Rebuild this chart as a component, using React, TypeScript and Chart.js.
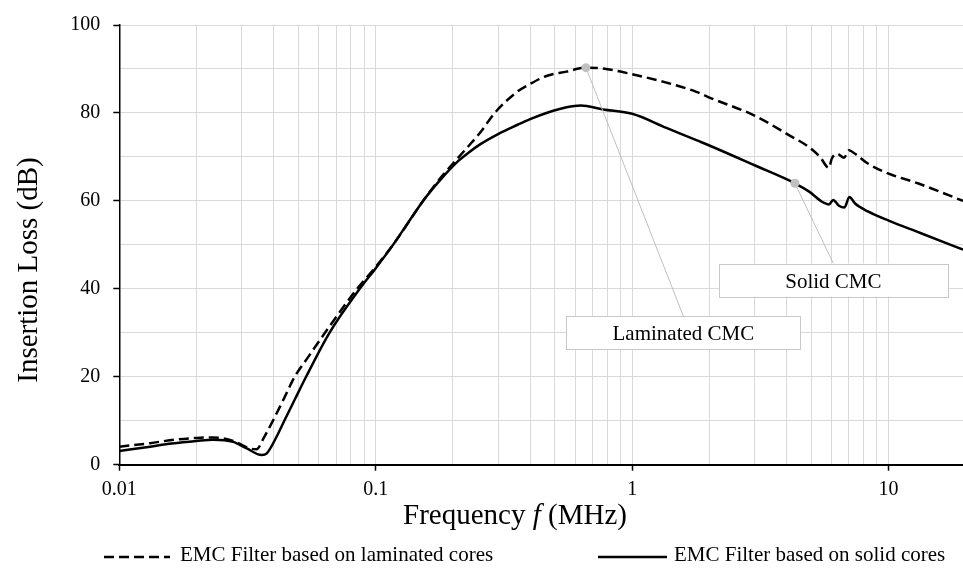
import React, { useEffect, useRef } from 'react';
import { Chart, registerables } from 'chart.js';

Chart.register(...registerables);

// ---- Data ----
const laminatedFreq = [
  0.01, 0.0132, 0.016, 0.02, 0.0232, 0.0278, 0.0323, 0.0343, 0.0365, 0.0398,
  0.044, 0.0483, 0.055, 0.0634, 0.0846, 0.1, 0.1168, 0.153, 0.18, 0.211,
  0.228, 0.256, 0.291, 0.354, 0.4, 0.463, 0.555, 0.66, 0.77, 1.0,
  1.36, 1.78, 2.0, 3.0, 4.1, 4.9, 5.4, 5.85, 6.0, 6.3,
  6.7, 7.0, 7.4, 8.3, 10, 13, 19.5,
];
const laminatedLoss = [
  4.1, 4.9, 5.6, 6.1, 6.2, 5.4, 3.7, 3.5, 6.0, 10.1,
  15.2, 20.0, 24.8, 30.0, 40.0, 45.0, 50.0, 60.0, 65.4, 70.0,
  72.2, 75.6, 80.0, 84.7, 86.6, 88.4, 89.4, 90.3, 90.1, 88.8,
  86.9, 84.8, 83.5, 79.4, 74.9, 72.2, 70.0, 67.5, 69.6, 70.7,
  69.8, 71.5, 70.7, 68.5, 66.2, 64.0, 60.0,
];
const solidFreq = [
  0.01, 0.0132, 0.016, 0.02, 0.0232, 0.0278, 0.0314, 0.0359, 0.0376, 0.041,
  0.044, 0.0485, 0.0535, 0.066, 0.0866, 0.1, 0.1168, 0.153, 0.18, 0.211,
  0.228, 0.256, 0.3, 0.354, 0.4, 0.463, 0.555, 0.63, 0.77, 1.0,
  1.36, 1.8, 2.0, 3.0, 4.31, 4.9, 5.5, 5.85, 6.08, 6.4,
  6.73, 7.03, 7.4, 8.3, 10, 13.3, 19.5,
];
const solidLoss = [
  3.1, 4.1, 4.8, 5.4, 5.7, 5.2, 3.7, 2.2, 2.6, 6.3,
  10.0, 15.0, 20.0, 30.0, 40.0, 44.7, 50.0, 60.0, 65.0, 69.2,
  70.8, 72.9, 75.2, 77.2, 78.6, 80.0, 81.3, 81.7, 80.8, 79.8,
  76.6, 73.7, 72.6, 68.1, 64.0, 62.1, 59.8, 59.2, 60.2, 58.9,
  58.5, 60.9, 59.4, 57.6, 55.5, 52.7, 48.9,
];

const seriesNames = ['EMC Filter based on laminated cores', 'EMC Filter based on solid cores'];
const decadeTicks = [0.01, 0.1, 1, 10];
const yLabelTicks = [0, 20, 40, 60, 80, 100];
const calloutLabels = ['Laminated CMC', 'Solid CMC'];
const calloutFreq = [0.66, 4.31];
const calloutLoss = [90.3, 64.0];

const X_MIN = 0.01;
const X_MAX = 19.5;

const FONT = "'Liberation Serif', 'Times New Roman', serif";
const GRID = '#d9d9d9';
const DASH = [10, 5];

// callout box placement (layout, in data coords for centre)
const calloutBoxes = [
  { fx: 1.584, fy: 30.0, w: 234, h: 33 },
  { fx: 6.09, fy: 42.0, w: 229, h: 33 },
];

const calloutPlugin = {
  id: 'callouts',
  afterDatasetsDraw(chart: any) {
    const { ctx } = chart;
    const x = chart.scales.x;
    const y = chart.scales.y;
    calloutLabels.forEach((label, i) => {
      const px = x.getPixelForValue(calloutFreq[i]);
      const py = y.getPixelForValue(calloutLoss[i]);
      const b = calloutBoxes[i];
      const bx = x.getPixelForValue(b.fx);
      const by = y.getPixelForValue(b.fy);
      ctx.save();
      ctx.strokeStyle = '#bfbfbf';
      ctx.lineWidth = 1;
      ctx.beginPath();
      ctx.moveTo(px, py);
      ctx.lineTo(bx, by - b.h / 2);
      ctx.stroke();
      ctx.fillStyle = '#ffffff';
      ctx.fillRect(bx - b.w / 2, by - b.h / 2, b.w, b.h);
      ctx.strokeStyle = '#c8c8c8';
      ctx.strokeRect(Math.round(bx - b.w / 2) + 0.5, Math.round(by - b.h / 2) + 0.5, b.w, b.h);
      ctx.fillStyle = '#000';
      ctx.font = `21px ${FONT}`;
      ctx.textAlign = 'center';
      ctx.textBaseline = 'alphabetic';
      ctx.fillText(label, bx, by + 7.5);
      ctx.fillStyle = '#c0c0c0';
      ctx.beginPath();
      ctx.arc(px, py, 4.5, 0, Math.PI * 2);
      ctx.fill();
      ctx.restore();
    });
  },
};

const textPlugin = {
  id: 'titlesLegend',
  afterDraw(chart: any) {
    const { ctx } = chart;
    ctx.save();
    ctx.fillStyle = '#000';
    // Y title
    ctx.font = `29px ${FONT}`;
    ctx.save();
    ctx.translate(36.5, 270);
    ctx.rotate(-Math.PI / 2);
    ctx.textAlign = 'center';
    ctx.textBaseline = 'alphabetic';
    ctx.fillText('Insertion Loss (dB)', 0, 0);
    ctx.restore();
    // X title with italic f
    const p1 = 'Frequency ';
    const p2 = 'f';
    const p3 = ' (MHz)';
    ctx.font = `29px ${FONT}`;
    const w1 = ctx.measureText(p1).width;
    const w3 = ctx.measureText(p3).width;
    ctx.font = `italic 29px ${FONT}`;
    const w2 = ctx.measureText(p2).width;
    const total = w1 + w2 + w3;
    let sx = 515 - total / 2;
    const base = 523.5;
    ctx.textAlign = 'left';
    ctx.textBaseline = 'alphabetic';
    ctx.font = `29px ${FONT}`;
    ctx.fillText(p1, sx, base);
    sx += w1;
    ctx.font = `italic 29px ${FONT}`;
    ctx.fillText(p2, sx, base);
    sx += w2;
    ctx.font = `29px ${FONT}`;
    ctx.fillText(p3, sx, base);

    // Legend
    const items = [
      { x0: 104, x1: 170, tx: 180, dash: DASH },
      { x0: 598, x1: 667, tx: 674, dash: [] as number[] },
    ];
    const ly = 557;
    items.forEach((it, i) => {
      const ds = chart.data.datasets[i];
      ctx.save();
      ctx.strokeStyle = ds.borderColor;
      ctx.lineWidth = ds.borderWidth;
      ctx.setLineDash(it.dash);
      ctx.beginPath();
      ctx.moveTo(it.x0, ly);
      ctx.lineTo(it.x1, ly);
      ctx.stroke();
      ctx.restore();
      ctx.font = `21px ${FONT}`;
      ctx.textAlign = 'left';
      ctx.textBaseline = 'alphabetic';
      ctx.fillStyle = '#000';
      ctx.fillText(seriesNames[i], it.tx, 561);
    });
    ctx.restore();
  },
};

function buildLogTicks(): number[] {
  const out: number[] = [];
  decadeTicks.forEach((d) => {
    for (let m = 1; m <= 9; m++) {
      const v = +(d * m).toPrecision(6);
      if (v >= X_MIN && v <= X_MAX) out.push(v);
    }
  });
  return out;
}

const isDecade = (v: number) => decadeTicks.some((d) => Math.abs(v - d) < d * 1e-6);

export default function App() {
  const canvasRef = useRef<HTMLCanvasElement | null>(null);

  useEffect(() => {
    const canvas = canvasRef.current;
    if (!canvas) return;
    const chart = new Chart(canvas, {
      type: 'scatter',
      data: {
        datasets: [
          {
            label: seriesNames[0],
            data: laminatedFreq.map((f, i) => ({ x: f, y: laminatedLoss[i] })),
            showLine: true,
            borderColor: '#000',
            backgroundColor: '#000',
            borderWidth: 2.5,
            borderDash: DASH,
            pointRadius: 0,
            pointHoverRadius: 0,
            cubicInterpolationMode: 'monotone',
          },
          {
            label: seriesNames[1],
            data: solidFreq.map((f, i) => ({ x: f, y: solidLoss[i] })),
            showLine: true,
            borderColor: '#000',
            backgroundColor: '#000',
            borderWidth: 2.5,
            pointRadius: 0,
            pointHoverRadius: 0,
            cubicInterpolationMode: 'monotone',
          },
        ],
      },
      options: {
        responsive: false,
        animation: false,
        devicePixelRatio: 1,
        layout: { padding: { top: 22, right: 0, left: 0, bottom: 0 } },
        plugins: {
          legend: { display: false },
          tooltip: { enabled: false },
          title: { display: false },
        },
        scales: {
          x: {
            type: 'logarithmic',
            position: 'bottom',
            min: X_MIN,
            max: X_MAX,
            afterBuildTicks: (scale: any) => {
              scale.ticks = buildLogTicks().map((v) => ({ value: v }));
            },
            afterFit: (scale: any) => {
              scale.height = 105.3;
            },
            grid: {
              color: GRID,
              lineWidth: 1,
              tickLength: 6,
              tickWidth: 1.5,
              tickColor: (ctx: any) => (ctx.tick && isDecade(ctx.tick.value) ? '#000' : 'rgba(0,0,0,0)'),
            },
            border: { display: true, color: '#000', width: 2 },
            ticks: {
              autoSkip: false,
              maxRotation: 0,
              minRotation: 0,
              padding: 7,
              color: '#000',
              font: { family: FONT, size: 20 },
              callback: (v: any) => {
                const n = Number(v);
                if (!isDecade(n)) return '';
                return String(decadeTicks.find((d) => Math.abs(n - d) < d * 1e-6));
              },
            },
            title: { display: false },
          },
          y: {
            type: 'linear',
            min: 0,
            max: 100,
            afterFit: (scale: any) => {
              scale.width = 119.3;
            },
            grid: {
              color: GRID,
              lineWidth: 1,
              tickLength: 6,
              tickWidth: 1.5,
              tickColor: (ctx: any) => (ctx.tick && yLabelTicks.includes(ctx.tick.value) ? '#000' : 'rgba(0,0,0,0)'),
            },
            border: { display: true, color: '#000', width: 1.5 },
            ticks: {
              stepSize: 10,
              padding: 13,
              color: '#000',
              font: { family: FONT, size: 20 },
              callback: (v: any) => (yLabelTicks.includes(Number(v)) ? String(v) : ''),
            },
            title: { display: false },
          },
        },
      },
      plugins: [calloutPlugin, textPlugin],
    } as any);
    return () => chart.destroy();
  }, []);

  return (
    <div style={{ position: 'absolute', left: 0, top: 0, width: 963, height: 570, background: '#fff' }}>
      <canvas ref={canvasRef} width={963} height={570} style={{ display: 'block', width: 963, height: 570 }} />
    </div>
  );
}
